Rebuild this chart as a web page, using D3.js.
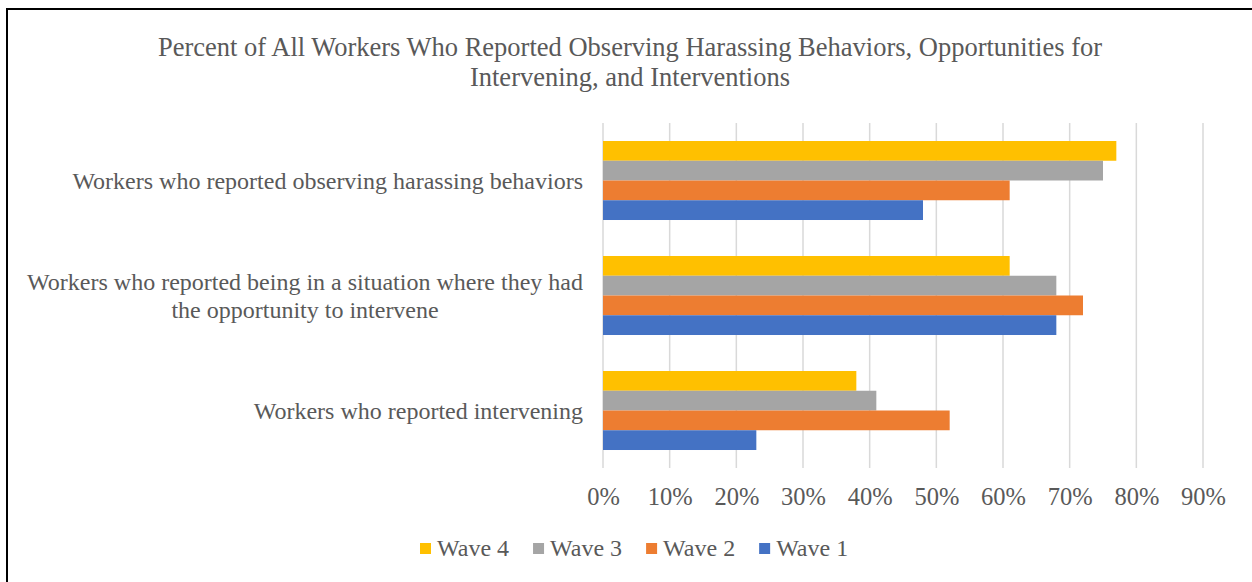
<!DOCTYPE html>
<html><head><meta charset="utf-8">
<script src="https://cdn.jsdelivr.net/npm/d3@7"></script>
<style>body{margin:0;background:#fff}svg{display:block}text{font-family:"Liberation Serif","Times New Roman",serif;fill:#595959}</style>
</head><body><svg id="c" width="1252" height="582"></svg>
<script>
const categories = [
  ["Workers who reported observing harassing behaviors"],
  ["Workers who reported being in a situation where they had", "the opportunity to intervene"],
  ["Workers who reported intervening"]
];
const seriesNames = ["Wave 4", "Wave 3", "Wave 2", "Wave 1"];
const seriesColors = ["#FFC000", "#A5A5A5", "#ED7D31", "#4472C4"];
const wave4 = [0.77, 0.61, 0.38];
const wave3 = [0.75, 0.68, 0.41];
const wave2 = [0.61, 0.72, 0.52];
const wave1 = [0.48, 0.68, 0.23];
const tickValues = [0, 0.1, 0.2, 0.3, 0.4, 0.5, 0.6, 0.7, 0.8, 0.9];
const titleLines = ["Percent of All Workers Who Reported Observing Harassing Behaviors, Opportunities for", "Intervening, and Interventions"];

const series = [wave4, wave3, wave2, wave1];
const svg = d3.select("#c");
svg.append("rect").attr("x", 7).attr("y", 9).attr("width", 1260).attr("height", 590)
  .attr("fill", "#fff").attr("stroke", "#000").attr("stroke-width", 2);

const x = d3.scaleLinear().domain([0, 0.9]).range([603, 1203]);
const catIdx = categories.map((d, i) => i);
const y = d3.scaleBand().domain(catIdx).range([123, 468]).paddingInner(0.313).paddingOuter(0.1565);
const y1 = d3.scaleBand().domain(seriesNames).range([0, y.bandwidth()]);

// title
const title = svg.append("text").attr("text-anchor", "middle").style("font-size", "26.5px");
titleLines.forEach((t, i) => title.append("tspan").attr("x", 630).attr("y", 56 + i * 30).text(t));

// gridlines
svg.append("g").selectAll("line").data(tickValues).join("line")
  .attr("x1", d => x(d)).attr("x2", d => x(d)).attr("y1", 123).attr("y2", 468)
  .attr("stroke", "#d9d9d9").attr("stroke-width", 1.5);

// bars
const g = svg.append("g").selectAll("g").data(catIdx).join("g")
  .attr("transform", d => `translate(0,${y(d)})`);
g.selectAll("rect").data(c => seriesNames.map((s, j) => ({s, j, v: series[j][c]}))).join("rect")
  .attr("x", x(0)).attr("y", d => y1(d.s)).attr("height", y1.bandwidth())
  .attr("width", d => x(d.v) - x(0)).attr("fill", d => seriesColors[d.j]);

// x axis labels
const xAxis = d3.axisBottom(x).tickValues(tickValues).tickFormat(d3.format(".0%")).tickSize(0).tickPadding(0);
const ax = svg.append("g").attr("transform", "translate(0,488)").call(xAxis);
ax.select(".domain").remove();
ax.selectAll("text").style("font-size", "24.5px").attr("fill", "#595959").attr("font-family", "Liberation Serif");

// category labels
catIdx.forEach(i => {
  const lines = categories[i];
  const lh = 28;
  const cy = y(i) + y.bandwidth() / 2;
  const t = svg.append("text").attr("text-anchor", "middle").style("font-size", "24px");
  const tsp = lines.map((l, k) => t.append("tspan").attr("y", cy + (k - (lines.length - 1) / 2) * lh).attr("dy", "0.35em").text(l));
  const w = d3.max(tsp, s => s.node().getComputedTextLength());
  tsp.forEach(s => s.attr("x", 583 - w / 2));
});

// legend
const lg = svg.append("g");
let lx = 420;
seriesNames.forEach((s, j) => {
  lg.append("rect").attr("x", lx).attr("y", 543).attr("width", 11).attr("height", 11).attr("fill", seriesColors[j]);
  const t = lg.append("text").attr("x", lx + 17).attr("y", 548).attr("dy", "0.35em").style("font-size", "24px").text(s);
  lx += 17 + t.node().getComputedTextLength() + 24;
});
</script></body></html>
